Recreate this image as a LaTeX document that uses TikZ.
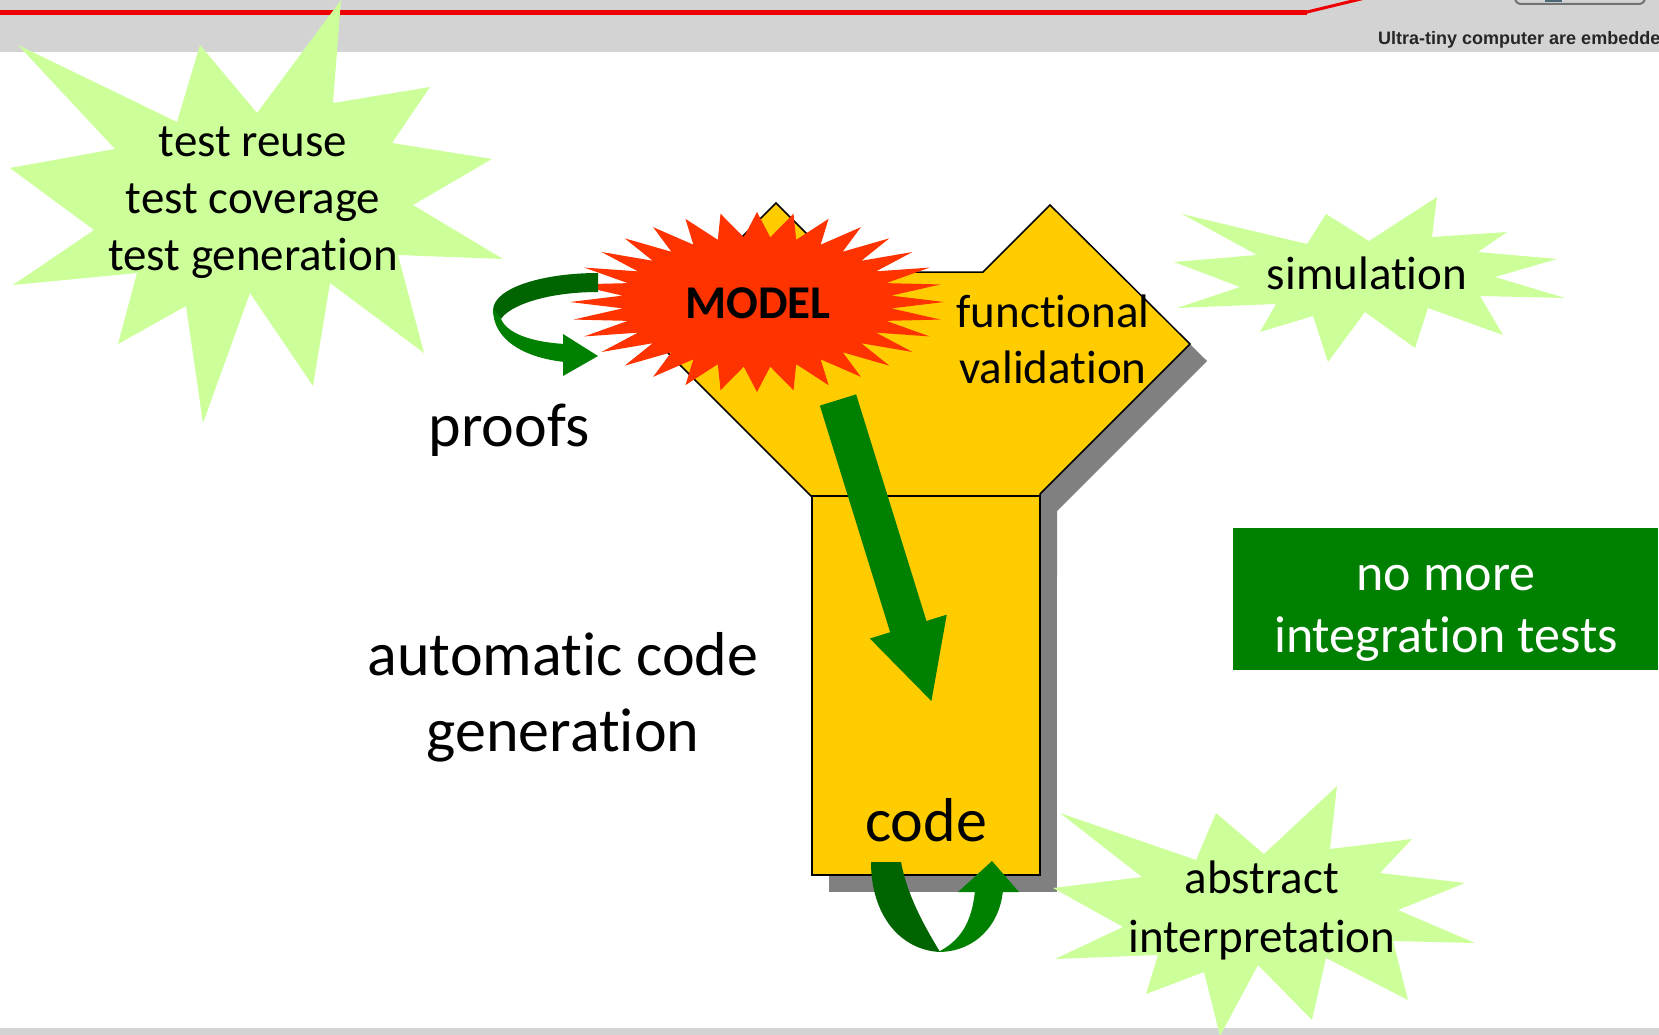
\documentclass[tikz,border=0pt]{standalone}
\usepackage{fontspec}
\setmainfont{Carlito}[Ligatures=NoCommon]
\newfontfamily\headfont{Liberation Sans}
\usetikzlibrary{arrows.meta}
% keeps "t" and "i" as separate glyphs
\newcommand{\splitti}{t\kern0pt i}

\definecolor{ybody}{HTML}{FFCC00}
\definecolor{yshade}{HTML}{808080}
\definecolor{modelred}{HTML}{FF3300}
\definecolor{burst}{HTML}{CCFF99}
\definecolor{okgreen}{HTML}{008000}
\definecolor{deepgreen}{HTML}{006400}
\definecolor{bandgray}{HTML}{D3D3D3}
\definecolor{rulered}{HTML}{EE0000}

\tikzset{
  lbl/.style={inner sep=0pt, anchor=base, font=\fontsize{47}{57}\selectfont},
  biglbl/.style={inner sep=0pt, anchor=base, font=\fontsize{62}{76}\selectfont},
  boxlbl/.style={inner sep=0pt, anchor=base, text=white, font=\fontsize{52}{62}\selectfont},
  burstfill/.style={fill=burst},
  outline/.style={draw=black, line width=1.5pt, fill=ybody},
  shade/.style={fill=yshade},
  flowarrow/.style={draw=okgreen, line width=38pt, -{Triangle[width=74pt,length=80pt]}},
}

\begin{document}
\begin{tikzpicture}[x=1pt,y=-1pt]
\useasboundingbox (0,0) rectangle (1659,1035);
\clip (0,0) rectangle (1659,1035);
\fill[white] (0,0) rectangle (1659,1035);

% header band with red rule and banner
\fill[bandgray] (0,0) rectangle (1659,52);
\draw[rulered, line width=5.5pt] (0,12.3) -- (1307,12.3);
\draw[rulered, line width=3pt] (1305,12.5) -- (1365,-2);
\draw[black!55, line width=2pt, rounded corners=6pt] (1515,-20) rectangle (1645,4);
\fill[black!60!cyan] (1545,0) rectangle (1562,2);
\node[anchor=base west, inner sep=0pt, text=black!85,
      font=\headfont\bfseries\fontsize{18}{21}\selectfont] (banner) at (1378,45)
      {Ultra-tiny computer are embedde};

% footer band
\fill[bandgray] (0,1028) rectangle (1659,1035);

% burst behind the test labels
\fill[burstfill] (341,0) -- (333,103) -- (430,87) -- (392,143) -- (492,159)
  -- (413,205) -- (503,259) -- (398,255) -- (424,353) -- (330,283)
  -- (313,386) -- (250,293) -- (203,423) -- (186,306) -- (118,344)
  -- (137,273) -- (13,285) -- (94,230) -- (10,168) -- (115,149)
  -- (18,45) -- (177,122) -- (200,45) -- (257,113) -- cycle;
\node[lbl] (reuse) at (253,157) {test reuse};
\node[lbl] (coverage) at (253,213) {test coverage};
\node[lbl] (generation) at (253,270) {test genera\splitti on};

% Y-shaped body: shadows first, then the body and the code box
\begin{scope}[shift={(17,17)}]
  \fill[shade] (776,203) -- (845,272) -- (983,272) -- (1050,205) -- (1190,344)
    -- (1040,494) -- (1040,560) -- (812,560) -- (812,497) -- (647,332) -- cycle;
  \fill[shade] (812,496) rectangle (1040,875);
\end{scope}
\path[outline] (776,203) -- (845,272) -- (983,272) -- (1050,205) -- (1190,344)
  -- (1040,494) -- (1040,560) -- (812,560) -- (812,497) -- (647,332) -- cycle;
\path[outline] (812,496) rectangle (1040,875);

% MODEL starburst
\fill[modelred] plot[samples at={0,...,63}, variable=\k]
  ({757+(161+26*cos(180*\k))*cos(5.625*\k)}, {302+(77.5+12.5*cos(180*\k))*sin(5.625*\k)}) -- cycle;
\node[inner sep=0pt, anchor=base, font=\bfseries\fontsize{47}{57}\selectfont] (model) at (758,318) {MODEL};

% code generation arrow
\coordinate (mtail) at (838,400);
\coordinate (mtip) at (932,703);
\draw[flowarrow] (mtail) -- (mtip);

% labels of the body
\node[lbl] (functional) at (1053,327) {func\splitti onal};
\node[lbl] (validation) at (1053,383) {valida\splitti on};
\node[biglbl] (code) at (926,841) {code};

% proofs loop arrow
\fill[deepgreen] (598,273) .. controls (545,273) and (494,287) .. (493,310)
  -- (501,319) .. controls (510,305) and (548,292) .. (598,292) -- cycle;
\fill[okgreen] (493,308) .. controls (492,340) and (525,358) .. (565,362)
  -- (565,344) .. controls (530,342) and (507,333) .. (501,319) -- cycle;
\fill[okgreen] (563,334) -- (598,356) -- (563,376) -- cycle;
\node[biglbl] (proofs) at (509,446) {proofs};

% loop arrow under the code box
\fill[deepgreen] (871,862) .. controls (871,915) and (900,950) .. (940,952)
  .. controls (930,935) and (908,900) .. (901,862) -- cycle;
\fill[okgreen] (938,952) .. controls (975,952) and (1000,925) .. (1003,890)
  -- (975,890) .. controls (972,925) and (958,942) .. (938,952) -- cycle;
\fill[okgreen] (958,892) -- (992,861) -- (1019,892) -- cycle;

% automatic code generation label
\node[biglbl] (autocode) at (563,675) {automa\splitti c code};
\node[biglbl] (autogen) at (563,751) {genera\splitti on};

% simulation burst
\fill[burstfill] (1182,214) -- (1307,244) -- (1326,214) -- (1369,241) -- (1437,197)
  -- (1432,237) -- (1507,232) -- (1478,252) -- (1557,259) -- (1495,277)
  -- (1565,298) -- (1480,296) -- (1503,335) -- (1428,308) -- (1415,348)
  -- (1365,312) -- (1328,362) -- (1313,316) -- (1260,332) -- (1276,304)
  -- (1177,308) -- (1240,287) -- (1174,262) -- (1257,255) -- cycle;
\node[lbl] (simulation) at (1367,289) {simula\splitti on};

% integration box
\fill[okgreen] (1233,528) rectangle (1658,670);
\node[boxlbl] (nomore) at (1446,590) {no more};
\node[boxlbl] (integration) at (1446,652) {integra\splitti on tests};

% abstract interpretation burst
\fill[burstfill] (1060,813) -- (1196,860) -- (1216,813) -- (1264,854) -- (1337,786)
  -- (1330,849) -- (1412,839) -- (1380,873) -- (1465,883) -- (1398,910)
  -- (1475,943) -- (1393,941) -- (1408,1000) -- (1326,958) -- (1312,1020)
  -- (1258,965) -- (1220,1036) -- (1204,972) -- (1146,994) -- (1158,955)
  -- (1055,959) -- (1123,927) -- (1053,888) -- (1142,877) -- cycle;
\node[lbl] (abstract) at (1262,893) {abstract};
\node[lbl] (interpretation) at (1262,952) {interpreta\splitti on};
\end{tikzpicture}
\end{document}
